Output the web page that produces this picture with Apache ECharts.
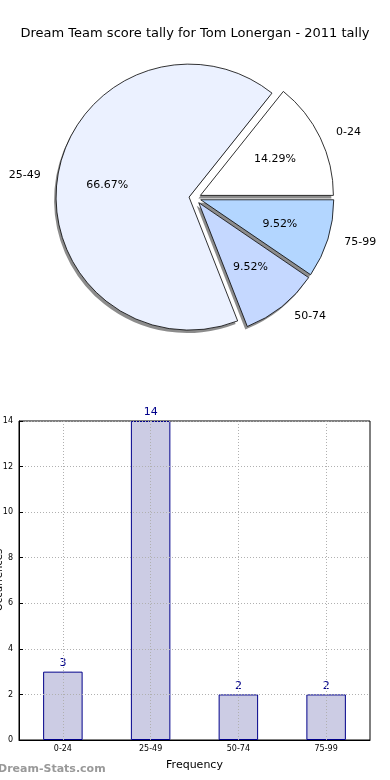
<!DOCTYPE html>
<html><head><meta charset="utf-8">
<script src="https://cdn.jsdelivr.net/npm/echarts@6/dist/echarts.min.js"></script>
<style>html,body{margin:0;padding:0;background:#fff}#c{width:390px;height:780px}</style>
</head><body><div id="c"></div>
<script>
const titleText = 'Dream Team score tally for Tom Lonergan - 2011 tally';
const categories = ['0-24', '25-49', '50-74', '75-99'];
const counts = [3, 14, 2, 2];
const sliceColors = ['#ffffff', '#ebf1ff', '#c5d8ff', '#b3d6ff'];
const yTicks = [0, 2, 4, 6, 8, 10, 12, 14];
const xName = 'Frequency';
const yName = 'Occurrences';
const watermark = 'Dream-Stats.com';

const F = 'DejaVu Sans';
const chart = echarts.init(document.getElementById('c'), null, {renderer: 'canvas'});
const R = 133, CX = 195, CY = 198, OFF = 6;

const pieData = categories.map((c, i) => ({name: c, value: counts[i], selected: true,
  itemStyle: {color: sliceColors[i]}}));
const plainData = categories.map((c, i) => ({name: c, value: counts[i], selected: true}));

const pieBase = {type: 'pie', startAngle: 0, clockwise: false, selectedMode: 'multiple',
  selectedOffset: OFF, silent: true, percentPrecision: 2, avoidLabelOverlap: false,
  emphasis: {disabled: true}};

chart.setOption({
  animation: false,
  textStyle: {fontFamily: F},
  title: {text: titleText, left: 'center', top: 22,
    textStyle: {fontFamily: F, fontSize: 13, fontWeight: 'normal', color: '#000'}},
  graphic: [
    {type: 'text', left: -2, top: 764,
      style: {text: watermark, font: 'bold 11px "DejaVu Sans"', fill: '#999999'}},
    {type: 'text', x: 4, y: 580, rotation: Math.PI / 2,
      style: {text: yName, font: '10px "DejaVu Sans"', fill: '#000',
        textAlign: 'center', textVerticalAlign: 'bottom'}}
  ],
  grid: {left: 19, right: 20, top: 421, bottom: 40, show: true, borderColor: '#000', borderWidth: 1,
    containLabel: false, outerBoundsMode: 'none'},
  xAxis: {type: 'category', data: categories, z: 3,
    name: xName, nameLocation: 'middle', nameGap: 20,
    nameTextStyle: {fontSize: 11, color: '#000', fontFamily: F},
    axisLine: {lineStyle: {color: '#000'}},
    axisTick: {inside: true, alignWithLabel: true, length: 4, lineStyle: {color: '#000'}},
    axisLabel: {fontSize: 8, color: '#000', margin: 5},
    splitLine: {show: true, alignWithLabel: true, lineStyle: {color: '#b0b0b0', type: [1, 2]}}},
  yAxis: {type: 'value', min: 0, max: 14, interval: 2, z: 3,
    axisLine: {show: true, lineStyle: {color: '#000'}},
    axisTick: {show: true, inside: true, length: 4, lineStyle: {color: '#000'}},
    axisLabel: {fontSize: 8, color: '#000', margin: 6,
      formatter: v => yTicks.includes(v) ? String(v) : ''},
    splitLine: {show: true, lineStyle: {color: '#b0b0b0', type: [1, 2]}}},
  series: [
    Object.assign({}, pieBase, {center: [CX - 2, CY + 3], radius: [0, R], z: 1,
      itemStyle: {color: 'rgba(0,0,0,0.45)', borderWidth: 0},
      label: {show: false}, labelLine: {show: false}, data: plainData}),
    Object.assign({}, pieBase, {center: [CX, CY], radius: [0, R], z: 2,
      itemStyle: {borderColor: '#000', borderWidth: 0.8},
      label: {show: true, position: 'outside', fontSize: 11, color: '#000', fontFamily: F},
      labelLine: {show: false, length: 12, length2: 0},
      data: pieData}),
    Object.assign({}, pieBase, {center: [CX, CY], radius: [0, R * 1.2], z: 3,
      itemStyle: {color: 'rgba(0,0,0,0)', borderWidth: 0},
      label: {show: true, position: 'inside', fontSize: 11, color: '#000', fontFamily: F,
        formatter: p => p.percent.toFixed(2) + '%'},
      labelLine: {show: false},
      data: plainData}),
    {type: 'bar', data: counts, barWidth: '45%', silent: true,
      itemStyle: {color: '#ccccE4', borderColor: '#00008b', borderWidth: 1},
      label: {show: true, position: 'top', fontSize: 11, color: '#00008b', distance: 3, fontFamily: F}}
  ]
});
</script></body></html>
